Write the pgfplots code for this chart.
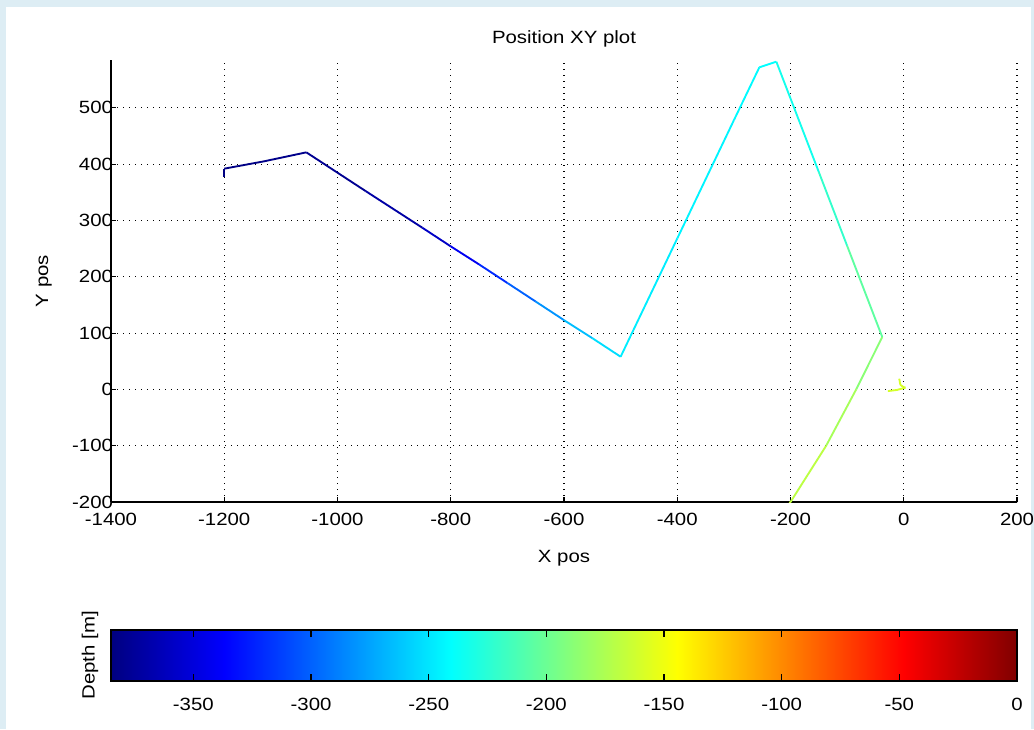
\documentclass[border=0pt]{standalone}
\usepackage{fontspec}
\setmainfont{Liberation Sans}[FakeStretch=1.15]
\usepackage{pgfplots}
\pgfplotsset{compat=1.18}
\definecolor{bgblue}{RGB}{221,237,244}
\pgfplotsset{/pgf/number format/assume math mode=true, /pgf/number format/1000 sep={}}
\newcommand{\tfont}{\fontsize{13.3}{15}\selectfont}
\begin{document}
\begin{tikzpicture}[x=0.75pt,y=0.75pt]
\useasboundingbox (0,0) rectangle (1034,729);
\fill[bgblue] (0,0) rectangle (1034,729);
\fill[white] (6,0) rectangle (1031,722);
\begin{axis}[
  at={(83.25pt,170.25pt)}, anchor=south west,
  scale only axis, width=679.5pt, height=331.5pt,
  xmin=-1400, xmax=200, ymin=-200, ymax=585,
  xtick={-1400,-1200,...,200}, ytick={-200,-100,...,500},
  scaled ticks=false,
  axis lines*=left, axis line style={-, line width=0.8pt},
  tick align=inside, major tick length=4pt,
  tick style={black, line width=0.8pt},
  grid=major, grid style={black, line width=0.8pt, dash pattern=on 0.8pt off 3.7pt},
  tick label style={font=\tfont},
  xticklabel style={yshift=-4.5pt},
  yticklabel style={xshift=5pt},
  label style={font=\tfont},
  title style={font=\tfont, at={(0.5,1.029)}, anchor=center},
  title={Position XY plot},
  xlabel={X pos}, ylabel={Y pos},
  xlabel style={at={(0.5,-0.127)}, anchor=center},
  ylabel style={at={(-0.0742,0.5)}, anchor=center},
  colormap/jet,
  point meta min=-385, point meta max=0,
  colorbar horizontal,
  colorbar/width=38.25pt,
  colorbar style={
    at={(0,-0.2896)}, anchor=north west,
    scale only axis, width=679.5pt, height=38.25pt,
    axis on top=true,
    xtick={-350,-300,...,0},
    xticklabel pos=left, xtick pos=both,
    tick align=inside, major tick length=5pt,
    tick style={black, line width=0.8pt},
    axis line style={line width=0.8pt},
    tick label style={font=\tfont},
    xticklabel style={yshift=-9pt},
    ylabel={Depth [m]},
    ylabel style={font=\tfont, at={(-0.0232,0.5)}, anchor=center},
  },
]
\addplot[mesh, line width=1.4pt, point meta=explicit] table[meta=d] {
x y d
-1200 378 -385
-1200 392 -384
-1130 405 -382
-1055 421 -380
-950 352 -376
-850 287 -366
-800 254 -352
-750 222 -332
-700 189 -310
-650 156 -290
-600 123 -272
-550 91 -258
-500 58 -248
-400 268 -246
-300 478 -243
-255 572 -241
-225 582 -240
-150 386 -228
-100 255 -215
-38 93 -195
-84 0 -182
-137 -100 -173
-200 -200 -166
-215 -222 -165
};
\addplot[mesh, line width=1.4pt, point meta=explicit] table[meta=d] {
x y d
-8 19 -160
-6 8 -160
0 4 -159
3 3 -159
-5 1 -160
-12 -1 -160
-28 -3 -161
};
\end{axis}
\end{tikzpicture}
\end{document}
